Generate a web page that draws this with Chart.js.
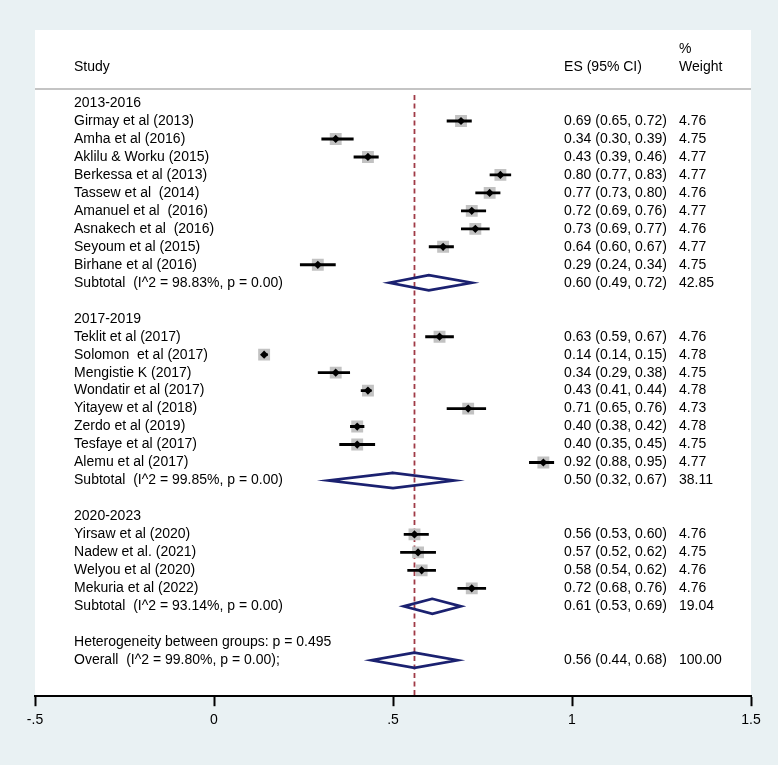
<!DOCTYPE html>
<html>
<head>
<meta charset="utf-8">
<title>Forest plot</title>
<script src="https://cdn.jsdelivr.net/npm/chart.js@4.4.0/dist/chart.umd.min.js"></script>
<style>
  html, body { margin: 0; padding: 0; background: #e9f1f3; }
  canvas { display: block; }
</style>
</head>
<body>
<canvas id="forest" width="778" height="765"></canvas>
<script>
// ---- data ----
const groupNames = ['2013-2016', '2017-2019', '2020-2023'];

const studyNames = [
  'Girmay et al (2013)', 'Amha et al (2016)', 'Aklilu & Worku (2015)', 'Berkessa et al (2013)',
  'Tassew et al  (2014)', 'Amanuel et al  (2016)', 'Asnakech et al  (2016)', 'Seyoum et al (2015)',
  'Birhane et al (2016)',
  'Teklit et al (2017)', 'Solomon  et al (2017)', 'Mengistie K (2017)', 'Wondatir et al (2017)',
  'Yitayew et al (2018)', 'Zerdo et al (2019)', 'Tesfaye et al (2017)', 'Alemu et al (2017)',
  'Yirsaw et al (2020)', 'Nadew et al. (2021)', 'Welyou et al (2020)', 'Mekuria et al (2022)'
];
const studyGroup  = [0,0,0,0,0,0,0,0,0, 1,1,1,1,1,1,1,1, 2,2,2,2];
const studyES     = [0.69, 0.34, 0.43, 0.80, 0.77, 0.72, 0.73, 0.64, 0.29,
                     0.63, 0.14, 0.34, 0.43, 0.71, 0.40, 0.40, 0.92,
                     0.56, 0.57, 0.58, 0.72];
const studyLo     = [0.65, 0.30, 0.39, 0.77, 0.73, 0.69, 0.69, 0.60, 0.24,
                     0.59, 0.14, 0.29, 0.41, 0.65, 0.38, 0.35, 0.88,
                     0.53, 0.52, 0.54, 0.68];
const studyHi     = [0.72, 0.39, 0.46, 0.83, 0.80, 0.76, 0.77, 0.67, 0.34,
                     0.67, 0.15, 0.38, 0.44, 0.76, 0.42, 0.45, 0.95,
                     0.60, 0.62, 0.62, 0.76];
const studyWeight = [4.76, 4.75, 4.77, 4.77, 4.76, 4.77, 4.76, 4.77, 4.75,
                     4.76, 4.78, 4.75, 4.78, 4.73, 4.78, 4.75, 4.77,
                     4.76, 4.75, 4.76, 4.76];

const subtotalLabels = [
  'Subtotal  (I^2 = 98.83%, p = 0.00)',
  'Subtotal  (I^2 = 99.85%, p = 0.00)',
  'Subtotal  (I^2 = 93.14%, p = 0.00)'
];
const subtotalES     = [0.60, 0.50, 0.61];
const subtotalLo     = [0.49, 0.32, 0.53];
const subtotalHi     = [0.72, 0.67, 0.69];
const subtotalWeight = [42.85, 38.11, 19.04];

const hetLabel      = 'Heterogeneity between groups: p = 0.495';
const overallLabel  = 'Overall  (I^2 = 99.80%, p = 0.00);';
const overallES     = 0.56;
const overallLo     = 0.44;
const overallHi     = 0.68;
const overallWeight = 100.00;

const xTickValues = [-0.5, 0, 0.5, 1, 1.5];
const xTickLabels = ['-.5', '0', '.5', '1', '1.5'];

// ---- row layout (one row per line of the plot) ----
const studyRow = [];
const groupRow = [];
const subtotalRow = [];
let row = 0;
groupNames.forEach((g, gi) => {
  groupRow[gi] = row++;
  studyGroup.forEach((sg, si) => { if (sg === gi) studyRow[si] = row++; });
  subtotalRow[gi] = row++;
  row++; // blank line
});
const hetRow = row++;
const overallRow = row;

// text columns, in x-axis units
const labelX = -0.391;
const esX = 0.978;
const weightX = 1.299;

const fmt = v => v.toFixed(2);
const ciText = (es, lo, hi) => `${fmt(es)} (${fmt(lo)}, ${fmt(hi)})`;

// ---- datasets ----
const ciPoints = [];
studyES.forEach((es, i) => {
  ciPoints.push({ x: studyLo[i], y: studyRow[i] });
  ciPoints.push({ x: studyHi[i], y: studyRow[i] });
  ciPoints.push({ x: studyHi[i], y: null });
});

const diamondPoints = [];
const half = 0.42;
const addDiamond = (es, lo, hi, r) => {
  diamondPoints.push({ x: lo, y: r }, { x: es, y: r - half }, { x: hi, y: r },
                     { x: es, y: r + half }, { x: lo, y: r }, { x: es, y: r - half },
                     { x: es, y: null });
};
subtotalES.forEach((es, i) => addDiamond(es, subtotalLo[i], subtotalHi[i], subtotalRow[i]));
addDiamond(overallES, overallLo, overallHi, overallRow);

const bgPlugin = {
  id: 'bg',
  beforeDraw(chart) {
    const { ctx, chartArea: a } = chart;
    ctx.save();
    ctx.fillStyle = '#e9f1f3';
    ctx.fillRect(0, 0, chart.width, chart.height);
    ctx.fillStyle = '#ffffff';
    ctx.fillRect(a.left, a.top, a.right - a.left, a.bottom - a.top);
    ctx.restore();
  }
};

const textPlugin = {
  id: 'forestText',
  afterDatasetsDraw(chart) {
    const { ctx, scales: { x, y } } = chart;
    ctx.save();
    ctx.font = '14px "Liberation Sans", Arial, sans-serif';
    ctx.fillStyle = '#000';
    ctx.textBaseline = 'middle';
    ctx.textAlign = 'left';
    const put = (s, xv, yv) => ctx.fillText(s, x.getPixelForValue(xv), y.getPixelForValue(yv));

    put('Study', labelX, -2);
    put('ES (95% CI)', esX, -2);
    put('%', weightX, -3);
    put('Weight', weightX, -2);

    groupNames.forEach((g, gi) => put(g, labelX, groupRow[gi]));
    studyNames.forEach((s, i) => {
      put(s, labelX, studyRow[i]);
      put(ciText(studyES[i], studyLo[i], studyHi[i]), esX, studyRow[i]);
      put(fmt(studyWeight[i]), weightX, studyRow[i]);
    });
    subtotalLabels.forEach((s, i) => {
      put(s, labelX, subtotalRow[i]);
      put(ciText(subtotalES[i], subtotalLo[i], subtotalHi[i]), esX, subtotalRow[i]);
      put(fmt(subtotalWeight[i]), weightX, subtotalRow[i]);
    });
    put(hetLabel, labelX, hetRow);
    put(overallLabel, labelX, overallRow);
    put(ciText(overallES, overallLo, overallHi), esX, overallRow);
    put(fmt(overallWeight), weightX, overallRow);
    ctx.restore();
  }
};

new Chart(document.getElementById('forest'), {
  type: 'scatter',
  data: {
    datasets: [
      { // point estimates
        data: studyES.map((v, i) => ({ x: v, y: studyRow[i] })),
        pointStyle: 'rectRot', pointRadius: 4.1,
        backgroundColor: '#000', borderWidth: 0, order: 0
      },
      { // confidence intervals
        data: ciPoints, showLine: true, pointRadius: 0,
        borderColor: '#000', borderWidth: 2.9, borderCapStyle: 'butt', order: 1
      },
      { // pooled diamonds
        data: diamondPoints, showLine: true, pointRadius: 0,
        borderColor: '#1b2170', borderWidth: 2.7, borderJoinStyle: 'miter', order: 1
      },
      { // weight boxes
        data: studyES.map((v, i) => ({ x: v, y: studyRow[i] })),
        pointStyle: 'rect',
        pointRadius: ctx => 8.4 * Math.sqrt((studyWeight[ctx.dataIndex] || 4.76) / 4.76),
        backgroundColor: '#c2c2c2', borderWidth: 0, order: 2
      },
      { // overall effect line
        data: [{ x: overallES, y: -0.45 }, { x: overallES, y: 33.1 }],
        showLine: true, pointRadius: 0,
        borderColor: '#a03a46', borderWidth: 1.8, borderDash: [5, 3.5], order: 3
      },
      { // header rule
        data: [{ x: -0.5, y: -0.78 }, { x: 1.5, y: -0.78 }],
        showLine: true, pointRadius: 0,
        borderColor: '#c4c4c4', borderWidth: 2, order: 3
      }
    ]
  },
  options: {
    responsive: false,
    animation: false,
    devicePixelRatio: 1,
    layout: { padding: { left: 35, right: 27, top: 30, bottom: 30 } },
    plugins: { legend: { display: false }, tooltip: { enabled: false } },
    events: [],
    scales: {
      x: {
        type: 'linear', min: -0.5, max: 1.5,
        afterBuildTicks: axis => { axis.ticks = xTickValues.map(v => ({ value: v })); },
        ticks: {
          callback: v => xTickLabels[xTickValues.indexOf(v)],
          color: '#000', padding: 6, maxRotation: 0,
          font: { family: '"Liberation Sans", Arial, sans-serif', size: 14 }
        },
        grid: { drawOnChartArea: false, drawTicks: true, tickLength: 10, tickColor: '#000', tickWidth: 2 },
        border: { display: true, color: '#000', width: 2 }
      },
      y: {
        type: 'linear', reverse: true, min: -4.062, max: 33.0, display: false
      }
    }
  },
  plugins: [bgPlugin, textPlugin]
});
</script>
</body>
</html>
